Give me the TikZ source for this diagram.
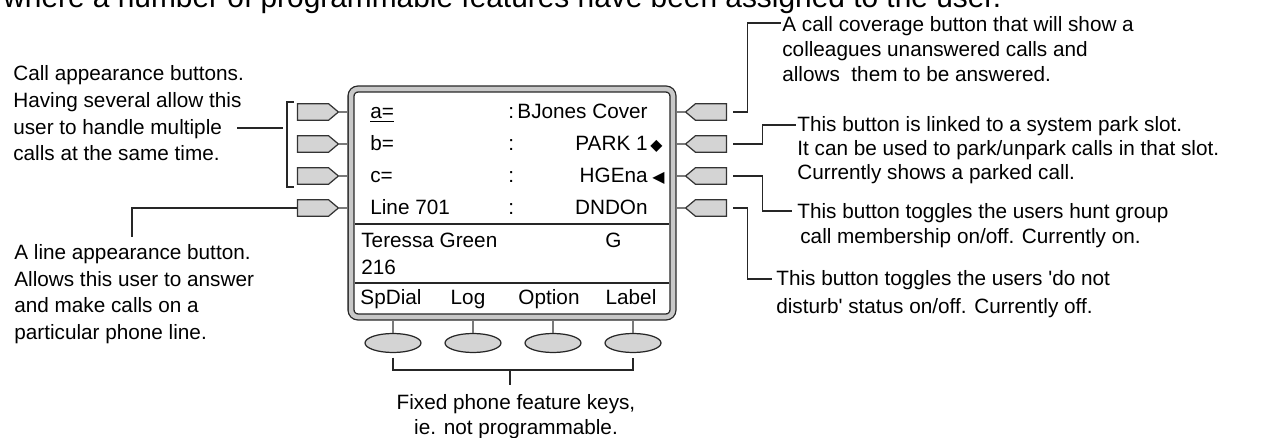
\documentclass[tikz,border=0pt]{standalone}
\usepackage{fontspec}
\setmainfont{Liberation Sans}
\newfontfamily\symfont{DejaVu Sans}
\usetikzlibrary{shapes.geometric,shapes.symbols,calc}
\definecolor{keyGray}{HTML}{D4D4D4}
\definecolor{stemGray}{HTML}{7A7A7A}
\definecolor{frameGray}{HTML}{C8C8C8}

\begin{document}
\begin{tikzpicture}[
        x=0.02cm, y=-0.02cm,
        note/.style={anchor=base west, align=left, inner sep=0pt, font=\fontsize{11.8}{14.5}\selectfont},
        disp/.style={anchor=base west, inner sep=0pt, font=\fontsize{11.8}{14}\selectfont},
        keybase/.style={signal, signal pointer angle=80, draw=black!80, fill=keyGray, line width=0.7pt, minimum width=0.82cm, minimum height=0.33cm, inner sep=0pt},
        lkey/.style={keybase, signal to=east},
        rkey/.style={keybase, signal to=west},
        fkey/.style={ellipse, draw=black!85, fill=keyGray, line width=0.7pt, minimum width=1.12cm, minimum height=0.38cm, inner sep=0pt},
        stem/.style={stemGray, line width=1.3pt},
        lead/.style={black!85, line width=0.8pt},
        sep/.style={black!85, line width=1pt}
    ]
        \useasboundingbox (0,0) rectangle (1266,438);
        \clip (0,0) rectangle (1266,438);

        \node[anchor=base west, inner sep=0pt, font=\fontsize{17}{20}\selectfont] (title) at (3,7.5)
            {where a number of programmable features have been assigned to the user.};

        % phone display
        \node[draw=black!85, double=frameGray, double distance=2.6pt, line width=0.75pt, rounded corners=4pt,
            minimum width=6.44cm, minimum height=4.56cm, inner sep=0pt] (phone) at (512,203) {};

        \node[disp] (la) at (370,118.5) {\underline{a=}};
        \node[disp] (lb) at (370,150.5) {b=};
        \node[disp] (lc) at (370,182.5) {c=};
        \node[disp] (ld) at (370,214.5) {Line 701};
        \node[disp] (ca) at (508,118.5) {:};
        \node[disp] (cb) at (508,150.5) {:};
        \node[disp] (cc) at (508,182.5) {:};
        \node[disp] (cd) at (508,214.5) {:};
        \node[disp, anchor=base east] (ta) at (648,118.5) {BJones Cover};
        \node[disp, anchor=base east] (tb) at (648,150.5) {PARK 1};
        \node[disp, font=\symfont\fontsize{9}{10}\selectfont] (sb) at (650,150.5) {◆};
        \node[disp, anchor=base east] (tc) at (648,182.5) {HGEna};
        \node[disp, font=\symfont\fontsize{9}{10}\selectfont] (sc) at (652,182.5) {◀};
        \node[disp, anchor=base east] (td) at (648,214.5) {DNDOn};

        \draw[sep] (355,224) -- (669,224);
        \node[disp] (uname) at (361,248) {Teressa Green};
        \node[disp] (ugrp) at (605,248) {G};
        \node[disp] (uext) at (361,275) {216};
        \draw[sep] (355,283) -- (669,283);

        \node[disp, anchor=base] (s1) at (391,305) {SpDial};
        \node[disp, anchor=base] (s2) at (468,305) {Log};
        \node[disp, anchor=base] (s3) at (549,305) {Option};
        \node[disp, anchor=base] (s4) at (631,305) {Label};

        % programmable keys
        \node[lkey] (ka) at (313,112) {};
        \node[lkey] (kb) at (313,144) {};
        \node[lkey] (kc) at (313,176) {};
        \node[lkey] (kd) at (313,208) {};
        \node[rkey] (ra) at (711,112) {};
        \node[rkey] (rb) at (711,144) {};
        \node[rkey] (rc) at (711,176) {};
        \node[rkey] (rd) at (711,208) {};

        \draw[stem, shorten >=0.07cm] (ka.east) -- (ka.east -| phone.west);
        \draw[stem, shorten >=0.07cm] (kb.east) -- (kb.east -| phone.west);
        \draw[stem, shorten >=0.07cm] (kc.east) -- (kc.east -| phone.west);
        \draw[stem, shorten >=0.07cm] (kd.east) -- (kd.east -| phone.west);
        \draw[stem, shorten >=0.07cm] (ra.west) -- (ra.west -| phone.east);
        \draw[stem, shorten >=0.07cm] (rb.west) -- (rb.west -| phone.east);
        \draw[stem, shorten >=0.07cm] (rc.west) -- (rc.west -| phone.east);
        \draw[stem, shorten >=0.07cm] (rd.west) -- (rd.west -| phone.east);

        % fixed keys
        \node[fkey] (f1) at (393,343) {};
        \node[fkey] (f2) at (473,343) {};
        \node[fkey] (f3) at (553,343) {};
        \node[fkey] (f4) at (633,343) {};
        \draw[stem, shorten >=0.07cm] (f1.north) -- (f1.north |- phone.south);
        \draw[stem, shorten >=0.07cm] (f2.north) -- (f2.north |- phone.south);
        \draw[stem, shorten >=0.07cm] (f3.north) -- (f3.north |- phone.south);
        \draw[stem, shorten >=0.07cm] (f4.north) -- (f4.north |- phone.south);

        % notes (base is the last line)
        \node[note, font=\fontsize{11.8}{15.3}\selectfont] (calltxt) at (13,161)
            {Call appearance buttons.\\Having several allow this\\user to handle multiple\\calls at the same time.};
        \node[note, font=\fontsize{11.8}{15.2}\selectfont] (linetxt) at (14,339.5)
            {A line appearance button.\\Allows this user to answer\\and make calls on a\\particular phone line.};
        \node[note] (covtxt) at (782,82)
            {A call coverage button that will show a\\colleagues unanswered calls and\\allows\ \ them to be answered.};
        \node[note, font=\fontsize{11.8}{13.8}\selectfont] (parktxt) at (797,179.5)
            {This button is linked to a system park slot.\\It can be used to park/unpark calls in that slot.\\Currently shows a parked call.};
        \node[note] (hunttxt) at (797,244)
            {This button toggles the users hunt group\\\hspace{0.06cm}call membership on/off. Currently on.};
        \node[note, font=\fontsize{11.8}{16}\selectfont] (dndtxt) at (776,313.5)
            {This button toggles the users \textquotesingle do not\\disturb\textquotesingle{} status on/off. Currently off.};
        \node[note, anchor=base, align=center] (fixtxt) at (516,434.5)
            {Fixed phone feature keys,\\ie. not programmable.};

        % leaders
        \coordinate (callend) at (237,128);
        \coordinate (brk) at (283,128);
        \draw[lead] ([shift={(-3,-10)}]ka.west) -- ++(-7,0) |- ([shift={(-3,11)}]kc.west);
        \draw[lead] (callend) -- (brk);
        \coordinate (lineend) at (132,237);
        \draw[lead] (kd.west) -| (lineend);

        \coordinate (r1end) at (781,23);
        \coordinate (r2end) at (796,125);
        \coordinate (r3end) at (792,211);
        \coordinate (r4end) at (772,279);
        \draw[lead] ([xshift=0.12cm]ra.east) -- ++(14,0) |- (r1end);
        \draw[lead] ([xshift=0.12cm]rb.east) -- ++(29,0) |- (r2end);
        \draw[lead] ([xshift=0.12cm]rc.east) -- ++(29,0) |- (r3end);
        \draw[lead] ([xshift=0.12cm]rd.east) -- ++(14,0) |- (r4end);

        \coordinate (fmid) at (510,370);
        \draw[lead] ([yshift=-0.09cm]f1.south) |- (fmid) -| ([yshift=-0.09cm]f4.south);
        \draw[lead] (fmid) -- ++(0,15);
    \end{tikzpicture}
\end{document}
